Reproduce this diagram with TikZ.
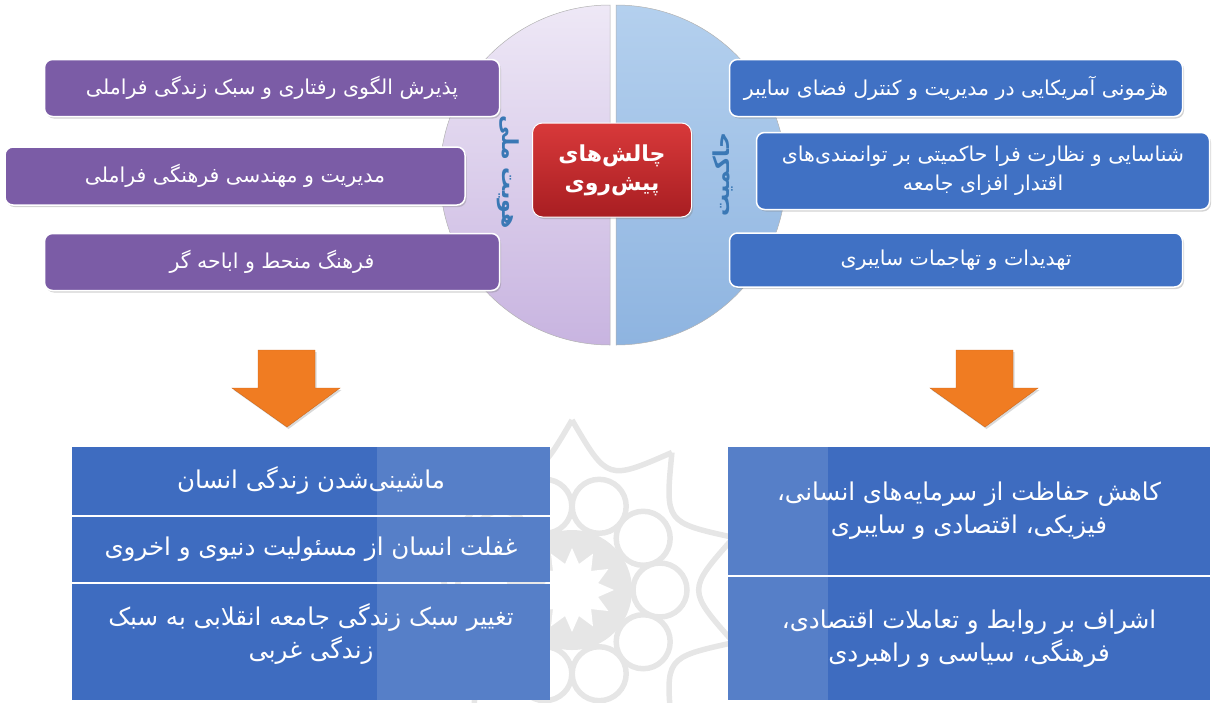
\documentclass[tikz,border=0pt]{standalone}
\usepackage{fontspec}
\newfontfamily\arabicfont[Script=Arabic]{DejaVu Sans}
\TeXXeTstate=1
\usetikzlibrary{shadows}
\newcommand{\fatext}[1]{{\arabicfont\beginR #1\endR}}
\definecolor{purp}{HTML}{7B5CA6}
\definecolor{bluebox}{HTML}{4071C4}
\definecolor{tblue}{HTML}{3E6CC0}
\definecolor{orng}{HTML}{F07C22}
\definecolor{redtop}{HTML}{D8393A}
\definecolor{redbot}{HTML}{A81E22}
\definecolor{lavtop}{HTML}{EEE8F6}
\definecolor{lavbot}{HTML}{C8B4E0}
\definecolor{ltbtop}{HTML}{B4D0EE}
\definecolor{ltbbot}{HTML}{8EB4E0}
\definecolor{vlabel}{HTML}{3A78B5}
\definecolor{wmgray}{HTML}{E6E6E6}
\begin{document}
\begin{tikzpicture}[x=1pt,y=-1pt,
  sbox/.style={rectangle, rounded corners=8pt, draw=white, line width=1.5pt,
    drop shadow={opacity=0.35,shadow xshift=1.5pt,shadow yshift=-2pt},
    text=white, font=\fontsize{20.5}{29}\selectfont, align=center, inner sep=0pt},
  pbox/.style={sbox, fill=purp},
  bbox/.style={sbox, fill=bluebox},
  trow/.style={rectangle, fill=tblue, text=white, inner sep=0pt, align=center,
    font=\fontsize{24.5}{33}\selectfont},
  vlab/.style={text=vlabel, font=\fontsize{22}{26}\selectfont\bfseries},
  arrowshape/.style={fill=orng, draw=orng!85!black, line width=0.4pt,
    drop shadow={opacity=0.3,shadow xshift=1.5pt,shadow yshift=-2pt}},
  wmline/.style={draw=wmgray, line width=5.5pt}
]
\useasboundingbox (0,0) rectangle (1214,702);

% watermark rosette
\begin{scope}[shift={(572,590)}]
  \fill[wmgray] (0,0) circle (60);
  \fill[white] (0:42) \foreach \i in {1,...,23}{ -- ({\i*15}:{mod(\i,2)==0 ? 42 : 27}) } -- cycle;
  \foreach \a in {0,36,...,324}{
    \draw[wmline] (\a:88) circle (27);
    \draw[wmline] ({\a+18}:170) .. controls ({\a+36}:115) .. ({\a+54}:170);
  }
\end{scope}

% half circles
\shade[top color=lavtop, bottom color=lavbot, draw=gray!60, line width=0.5pt]
  (610,5) arc[start angle=-90, end angle=-270, radius=170] -- cycle;
\shade[top color=ltbtop, bottom color=ltbbot, draw=gray!60, line width=0.5pt]
  (616,5) arc[start angle=-90, end angle=90, radius=170] -- cycle;

% vertical labels
\node[vlab, rotate=-90] (hoviat) at (508,172) {\fatext{هویت ملی}};
\node[vlab, rotate=90] (hakem) at (723,175) {\fatext{حاکمیت}};

% purple boxes
\node[pbox, minimum width=455pt, minimum height=57pt] (p1) at (272,88) {\fatext{پذیرش الگوی رفتاری و سبک زندگی فراملی}};
\node[pbox, minimum width=460pt, minimum height=58pt] (p2) at (235,176) {\fatext{مدیریت و مهندسی فرهنگی فراملی}};
\node[pbox, minimum width=455pt, minimum height=57pt] (p3) at (272,262) {\fatext{فرهنگ منحط و اباحه گر}};

% blue boxes
\node[bbox, minimum width=453pt, minimum height=57pt] (b1) at (956,88) {\fatext{هژمونی آمریکایی در مدیریت و کنترل فضای سایبر}};
\node[bbox, minimum width=453pt, minimum height=77pt] (b2) at (983,171) {\fatext{شناسایی و نظارت فرا حاکمیتی بر توانمندی‌های}\\\fatext{اقتدار افزای جامعه}};
\node[bbox, minimum width=453pt, minimum height=54pt] (b3) at (956,260) {\fatext{تهدیدات و تهاجمات سایبری}};

% center red box
\node[rectangle, rounded corners=10pt, top color=redtop, bottom color=redbot, draw=white, line width=1pt,
  drop shadow={opacity=0.35,shadow xshift=1.5pt,shadow yshift=-2pt},
  minimum width=159pt, minimum height=94pt, text=white, align=center, inner sep=0pt,
  font=\fontsize{22}{29}\selectfont\bfseries] (center) at (612,170)
  {\fatext{چالش‌های}\\\fatext{پیش‌روی}};

% orange arrows
\fill[arrowshape] (258,350) -- (315,350) -- (315,388) -- (340,388) -- (287,427) -- (232,388) -- (258,388) -- cycle;
\fill[arrowshape] (956,350) -- (1013,350) -- (1013,388) -- (1038,388) -- (985,427) -- (930,388) -- (956,388) -- cycle;

% left table
\node[trow, minimum width=478pt, minimum height=68pt] (t1) at (311,481) {\fatext{ماشینی‌شدن زندگی انسان}};
\node[trow, minimum width=478pt, minimum height=65pt] (t2) at (311,549.5) {\fatext{غفلت انسان از مسئولیت دنیوی و اخروی}};
\node[trow, minimum width=478pt, minimum height=116pt, text height=38pt] (t3) at (311,642) {\fatext{تغییر سبک زندگی جامعه انقلابی به سبک}\\\fatext{زندگی غربی}};

% right table
\node[trow, minimum width=482pt, minimum height=128pt] (r1) at (969,511) {\fatext{کاهش حفاظت از سرمایه‌های انسانی،}\\\fatext{فیزیکی، اقتصادی و سایبری}};
\node[trow, minimum width=482pt, minimum height=123pt] (r2) at (969,638.5) {\fatext{اشراف بر روابط و تعاملات اقتصادی،}\\\fatext{فرهنگی، سیاسی و راهبردی}};

% watermark light overlay on tables
\fill[white, opacity=0.13] (377,447) rectangle (550,700);
\fill[white, opacity=0.13] (728,447) rectangle (828,700);
\end{tikzpicture}
\end{document}
